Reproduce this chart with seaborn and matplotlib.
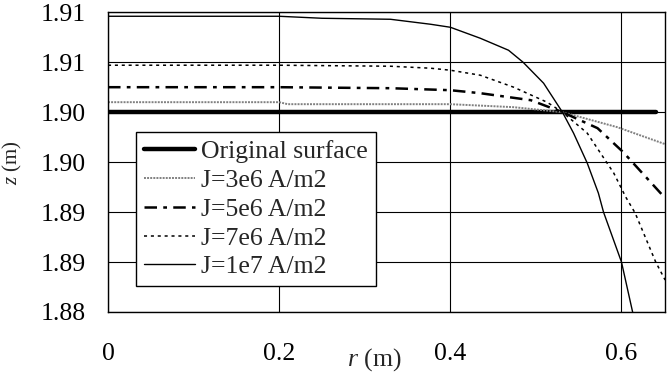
import matplotlib
matplotlib.use("Agg")
import matplotlib.pyplot as plt
import seaborn as sns

# Surface profiles z(r) for different current densities
r_orig = [0.0, 0.64]
z_orig = [1.900, 1.900]

r_j3 = [0.0, 0.2, 0.21, 0.3, 0.4, 0.474, 0.531, 0.595, 0.651]
z_j3 = [1.9010, 1.9010, 1.9008, 1.9008, 1.9008, 1.9005, 1.9000, 1.8985, 1.8968]

r_j5 = [0.0, 0.2, 0.33, 0.4, 0.435, 0.494, 0.531, 0.572, 0.602, 0.651]
z_j5 = [1.9025, 1.9025, 1.9024, 1.9022, 1.9019, 1.9012, 1.9000, 1.8984, 1.8960, 1.8914]

r_j7 = [0.0, 0.2, 0.33, 0.377, 0.4, 0.435, 0.474, 0.513, 0.531, 0.560,
        0.591, 0.605, 0.616, 0.640, 0.651]
z_j7 = [1.9047, 1.9047, 1.9046, 1.9044, 1.9042, 1.9037, 1.9025, 1.9010, 1.9000, 1.8979,
        1.8939, 1.8915, 1.8899, 1.8850, 1.8832]

r_j10 = [0.0, 0.2, 0.25, 0.33, 0.377, 0.4, 0.435, 0.468, 0.485, 0.509, 0.531,
         0.544, 0.560, 0.573, 0.579, 0.600, 0.613]
z_j10 = [1.9096, 1.9096, 1.9094, 1.9093, 1.9088, 1.9085, 1.9074, 1.9062, 1.9050, 1.9029, 1.9000,
         1.8979, 1.8949, 1.8919, 1.8900, 1.8850, 1.8800]

x_ticks = [0.0, 0.2, 0.4, 0.6]
x_ticklabels = ['0', '0.2', '0.4', '0.6']
y_ticks = [1.880, 1.885, 1.890, 1.895, 1.900, 1.905, 1.910]
y_ticklabels = ['1.88', '1.89', '1.89', '1.90', '1.90', '1.91', '1.91']

sns.set_style("white")
plt.rcParams['font.family'] = ['Liberation Serif', 'DejaVu Serif']
plt.rcParams['mathtext.fontset'] = 'custom'
plt.rcParams['mathtext.rm'] = 'Liberation Serif'
plt.rcParams['mathtext.it'] = 'Liberation Serif:italic'

FS = 18.5

fig = plt.figure(figsize=(6.68, 3.80), dpi=100)
ax = fig.add_axes([0.1617, 0.179, 0.834, 0.7887])

ax.grid(True, color='black', linewidth=0.8)
ax.set_axisbelow(True)

sns.lineplot(x=r_orig, y=z_orig, ax=ax, color='black', linewidth=3.2,
             estimator=None, label='Original surface')
sns.lineplot(x=r_j3, y=z_j3, ax=ax, color='#808080', linewidth=1.4,
             linestyle=(0, (1, 0.6)), estimator=None, label='J=3e6 A/m2')
sns.lineplot(x=r_j5, y=z_j5, ax=ax, color='black', linewidth=1.8,
             linestyle=(0, (5, 2.5, 1.5, 2.5)), estimator=None, label='J=5e6 A/m2')
sns.lineplot(x=r_j7, y=z_j7, ax=ax, color='black', linewidth=1.1,
             linestyle=(0, (2, 2.5)), estimator=None, label='J=7e6 A/m2')
sns.lineplot(x=r_j10, y=z_j10, ax=ax, color='black', linewidth=1.0,
             estimator=None, label='J=1e7 A/m2')

ax.set_xlim(0, 0.651)
ax.set_ylim(1.880, 1.910)
ax.set_xticks(x_ticks)
ax.set_xticklabels(x_ticklabels)
ax.set_yticks(y_ticks)
ax.set_yticklabels(y_ticklabels)
ax.tick_params(axis='both', direction='out', length=6, width=1, color='black',
               labelsize=FS, labelcolor='black')
ax.tick_params(axis='x', pad=16)
ax.tick_params(axis='y', pad=10)

for s in ax.spines.values():
    s.set_color('black')
    s.set_linewidth(1)

ax.set_xlabel('$r$ (m)', fontsize=FS)
ax.xaxis.set_label_coords(0.478, -0.115)
ax.set_ylabel('$z$ (m)', fontsize=15, va='center')
ax.yaxis.set_label_coords(-0.172, 0.5)

leg = ax.legend(loc='upper left', bbox_to_anchor=(0.05, 0.6), borderaxespad=0,
                fontsize=FS, handlelength=2.0, handletextpad=0.25, labelspacing=0.23,
                borderpad=0.3, fancybox=False, framealpha=1, edgecolor='black')
leg.get_frame().set_linewidth(1)

fig.savefig('out.png', dpi=100)
